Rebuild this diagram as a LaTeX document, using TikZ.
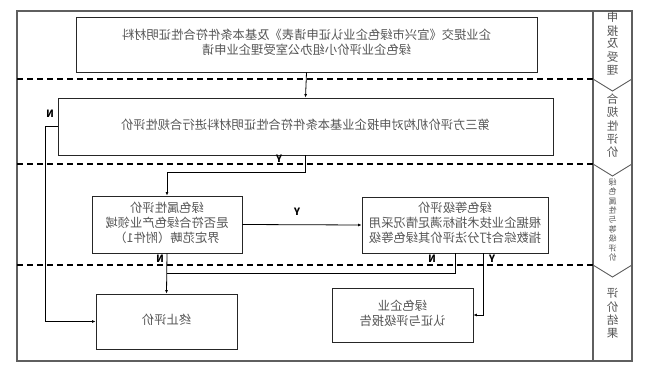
\documentclass[tikz,border=0pt]{standalone}
\usepackage{fontspec}
\setmainfont{Noto Sans CJK SC}
\usepackage{graphicx}
\usetikzlibrary{arrows.meta}
\definecolor{frameline}{RGB}{95,95,95}
\definecolor{txt}{RGB}{85,85,85}
% the reference is printed mirrored
\newcommand{\mirr}[1]{\reflectbox{\begin{tabular}{@{}c@{}}#1\end{tabular}}}

\begin{document}
\begin{tikzpicture}[x=1pt, y=-1pt,
    box/.style={draw=black!85, line width=0.9pt, inner sep=0pt, text=txt,
      font=\fontsize{12.3}{15}\selectfont},
    lane/.style={text=txt, inner sep=0pt, font=\fontsize{11.5}{12.5}\selectfont},
    arr/.style={-{Latex[length=3.5pt,width=3pt]}, line width=0.8pt},
    link/.style={line width=0.8pt},
    sep/.style={dash pattern=on 6pt off 4pt, line width=1.3pt},
    yn/.style={font=\bfseries\fontsize{10}{10}\selectfont, inner sep=0pt},
  ]
  \useasboundingbox (0,0) rectangle (648,374);

  % frame and lanes
  \draw[frameline, line width=1.1pt] (17,11) rectangle (632,361);
  \draw[frameline, line width=1.1pt] (593,11) -- (593,361);
  \foreach \y in {79,164,265} {
    \draw[sep] (17,\y) -- (593,\y);
    \draw[frameline, line width=0.9pt] (593,\y) -- (612.5,\y+12) -- (632,\y);
  }
  \node[lane] (lane1) at (612.5,45) {\mirr{申\\报\\及\\受\\理}};
  \node[lane] (lane2) at (612.5,127) {\mirr{合\\规\\性\\评\\价}};
  \node[lane, font=\fontsize{8}{9.2}\selectfont] (lane3) at (612.5,221)
    {\mirr{绿\\色\\属\\性\\与\\等\\级\\评\\价}};
  \node[lane] (lane4) at (612.5,315) {\mirr{评\\价\\结\\果}};

  % steps
  \node[box, minimum width=461pt, minimum height=55pt] (submit) at (306.5,44.5)
    {\mirr{企业提交《宜兴市绿色企业认证申请表》及基本条件符合性证明材料\\绿色企业评价小组办公室受理企业申请}};
  \node[box, minimum width=495pt, minimum height=57pt] (comply) at (305.5,126.5)
    {\mirr{第三方评价机构对申报企业基本条件符合性证明材料进行合规性评价}};
  \node[box, minimum width=150pt, minimum height=57pt] (attr) at (167,224.5)
    {\mirr{绿色属性评价\\是否符合绿色产业领域\\界定范畴（附件1）}};
  \node[box, minimum width=186pt, minimum height=56pt] (grade) at (455,225)
    {\mirr{绿色等级评价\\根据企业技术指标满足情况采用\\指数综合打分法评价其绿色等级}};
  \node[box, minimum width=141pt, minimum height=55pt] (stop) at (166.5,321.5)
    {\mirr{终止评价}};
  \node[box, minimum width=141pt, minimum height=54pt] (report) at (402.5,315)
    {\mirr{绿色企业\\认证与评级报告}};

  % flow
  \coordinate (join) at (167,273);
  \draw[arr] (submit.south) -- (comply.north);
  \draw[arr] (comply.south) -- ++(0,17) -| (attr.north);
  \node[yn] (y1) at (279,160) {\mirr{Y}};
  \draw[arr] (comply.west) -- ++(-12,0) |- (stop.west);
  \node[yn] (n1) at (50,115) {\mirr{N}};
  \draw[arr] (attr.east) -- (grade.west);
  \node[yn] (y2) at (297,213) {\mirr{Y}};
  \draw[arr] (attr.south) -- (stop.north);
  \node[yn] (n2) at (160,260) {\mirr{N}};
  \draw[link] (grade.south) |- (join);
  \node[yn] (n3) at (432,260) {\mirr{N}};
  \draw[arr] ([xshift=28pt]grade.south) |- (report.east);
  \node[yn] (y3) at (492,260) {\mirr{Y}};
\end{tikzpicture}
\end{document}
